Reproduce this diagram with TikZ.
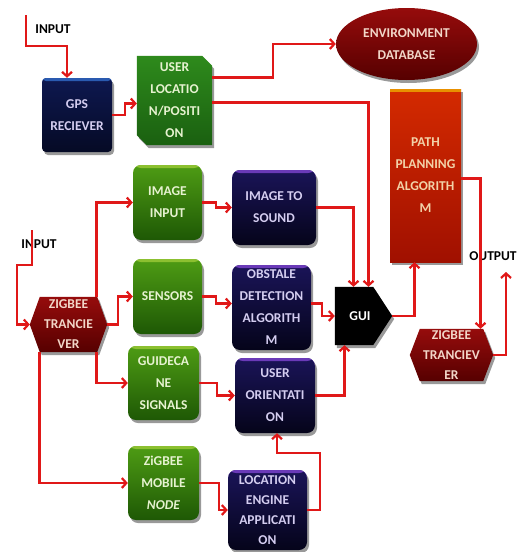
\documentclass[tikz,border=0pt]{standalone}
\usepackage{fontspec}
\setmainfont{Carlito}
\usetikzlibrary{shapes.geometric,shadows,arrows.meta}
\pgfdeclarelayer{bg}
\pgfsetlayers{bg,main}
\definecolor{wirecol}{HTML}{E01818}
\definecolor{navytop}{HTML}{1A1458}
\definecolor{navybot}{HTML}{05041A}
\definecolor{navyband}{HTML}{6A3AB8}
\definecolor{navytext}{HTML}{D4CDF0}
\definecolor{gpstop}{HTML}{0E1850}
\definecolor{gpsbot}{HTML}{050A25}
\definecolor{gpsband}{HTML}{2A5AB0}
\definecolor{greentop}{HTML}{4E9C14}
\definecolor{greenbot}{HTML}{1E5805}
\definecolor{greenband}{HTML}{8CC030}
\definecolor{greentext}{HTML}{E6F2D0}
\definecolor{ultop}{HTML}{2E8A1C}
\definecolor{ulbot}{HTML}{1A6010}
\definecolor{redtop}{HTML}{960C0C}
\definecolor{redbot}{HTML}{560000}
\definecolor{redtext}{HTML}{F2D6C8}
\definecolor{pptop}{HTML}{D42A00}
\definecolor{ppbot}{HTML}{A01000}
\definecolor{ppband}{HTML}{E89000}
\definecolor{pptext}{HTML}{F2D2A8}
\begin{document}
\begin{tikzpicture}[x=1pt,y=-1pt,
  every node/.style={font=\fontsize{13.5}{22}\selectfont\bfseries, align=center, inner sep=0pt},
  shad/.style={drop shadow={shadow xshift=2pt,shadow yshift=-3pt,opacity=.4,fill=black}},
  band/.style={path picture={\fill[#1] (path picture bounding box.north west) rectangle ([yshift=-3pt]path picture bounding box.north east);}},
  navybox/.style={rounded corners=8pt, top color=navytop, bottom color=navybot, text=navytext, shad, band=navyband},
  gpsbox/.style={rounded corners=4pt, top color=gpstop, bottom color=gpsbot, text=navytext, shad, band=gpsband},
  greenbox/.style={rounded corners=8pt, top color=greentop, bottom color=greenbot, text=greentext, shad, band=greenband},
  ppbox/.style={top color=pptop, bottom color=ppbot, text=pptext, shad, band=ppband},
  envbox/.style={ellipse, top color=redtop, bottom color=redbot, text=redtext, shad},
  ulfill/.style={top color=ultop, bottom color=ulbot, shad},
  hexfill/.style={top color=redtop, bottom color=redbot, shad},
  guifill/.style={fill=black, shad},
  hextext/.style={text=redtext, font=\fontsize{13.5}{20}\selectfont\bfseries},
  lbl/.style={font=\fontsize{13.5}{16}\selectfont\bfseries, text=black},
  wire/.style={draw=wirecol, line width=2.2pt, -{Straight Barb[length=4.5pt,width=10pt]}}
]
\useasboundingbox (0,0) rectangle (519,552);

% nodes
\node[gpsbox, minimum width=70pt, minimum height=74pt] (gps) at (77,115) {GPS\\RECIEVER};
\node[text=greentext, minimum width=75pt, minimum height=89pt] (ul) at (174.5,100.5) {USER\\LOCATIO\\N/POSITI\\ON};
\node[envbox, minimum width=141pt, minimum height=72pt] (env) at (406.5,44) {ENVIRONMENT\\DATABASE};
\node[ppbox, minimum width=71pt, minimum height=173pt] (pp) at (425.5,175.5) {PATH\\PLANNING\\ALGORITH\\M};
\node[greenbox, minimum width=69pt, minimum height=75pt] (ii) at (167.5,202.5) {IMAGE\\INPUT};
\node[navybox, minimum width=84pt, minimum height=75pt] (its) at (274,207.5) {IMAGE TO\\SOUND};
\node[greenbox, minimum width=69pt, minimum height=75pt] (sen) at (167.5,296.5) {SENSORS};
\node[navybox, minimum width=79pt, minimum height=85pt] (obs) at (271.5,307.5) {OBSTALE\\DETECTION\\ALGORITH\\M};
\node[text=white, minimum width=57pt, minimum height=58pt] (gui) at (363.5,316) {\hbox{GUI\kern7pt}};
\node[hextext, minimum width=77pt, minimum height=55pt] (zl) at (68.5,324.5) {ZIGBEE\\TRANCIE\\VER};
\node[hextext, minimum width=83pt, minimum height=52pt] (zr) at (451.5,355) {ZIGBEE\\TRANCIEV\\ER};
\node[greenbox, minimum width=71pt, minimum height=74pt] (gc) at (163.5,383) {GUIDECA\\NE\\SIGNALS};
\node[navybox, minimum width=80pt, minimum height=75pt] (uo) at (275,395.5) {USER\\ORIENTATI\\ON};
\node[greenbox, minimum width=71pt, minimum height=74pt] (zm) at (163.5,483) {ZiGBEE\\MOBILE\\\textit{NODE}};
\node[navybox, font=\fontsize{13.5}{20}\selectfont\bfseries, minimum width=79pt, minimum height=80pt] (le) at (267.5,510) {LOCATION\\ENGINE\\APPLICATI\\ON};

% labels
\node[lbl] (lin1) at (53,29) {INPUT};
\node[lbl] (lin2) at (39,244) {INPUT};
\node[lbl] (lout) at (493,256) {OUTPUT};

% custom shapes
\begin{pgfonlayer}{bg}
\path[ulfill] (ul.north west) -- ([xshift=-10pt]ul.north east) -- ([yshift=-10pt]ul.north east)
  -- (ul.south east) -- ([xshift=10pt]ul.south west) -- ([yshift=10pt]ul.south west) -- cycle;
\path[hexfill] (zl.west) -- ([xshift=10pt]zl.north west) -- ([xshift=-10pt]zl.north east) -- (zl.east)
  -- ([xshift=-10pt]zl.south east) -- ([xshift=10pt]zl.south west) -- cycle;
\path[hexfill] (zr.west) -- ([xshift=10pt]zr.north west) -- ([xshift=-10pt]zr.north east) -- (zr.east)
  -- ([xshift=-10pt]zr.south east) -- ([xshift=10pt]zr.south west) -- cycle;
\path[guifill] (gui.north west) -- ([xshift=-19pt]gui.north east) -- (gui.east)
  -- ([xshift=-19pt]gui.south east) -- (gui.south west) -- cycle;
\end{pgfonlayer}

% free ends
\coordinate (in1) at (26,15);
\coordinate (in2) at (32,230);
\coordinate (out) at (506,272);

% connectors
\draw[wire] (in1) -- (26,46) -| ([xshift=-10pt]gps.north);
\draw[wire] (gps.east) -- ++(13,0) |- ([yshift=-3pt]ul.west);
\draw[wire] ([yshift=23pt]ul.east) -- (273,77.5) |- (env.west);
\draw[wire] ([yshift=-2pt]ul.east) -| ([xshift=5pt]gui.north);
\draw[wire] (its.east) -| ([xshift=-10pt]gui.north);
\draw[wire] (in2) -- (32,265) -- (17,265) |- (zl.west);
\draw[wire] ([xshift=28pt]zl.north) |- (ii.west);
\draw[wire] (zl.east) -- ++(11,0) |- (sen.west);
\draw[wire] ([xshift=28pt]zl.south) |- (gc.west);
\draw[wire] ([xshift=-29pt]zl.south) |- (zm.west);
\draw[wire] (ii.east) -- ++(14,0) |- (its.west);
\draw[wire] (sen.east) -- ++(14,0) |- ([yshift=4pt]obs.west);
\draw[wire] ([yshift=4pt]obs.east) -- ++(11,0) |- (gui.west);
\draw[wire] (gc.east) -- ++(18,0) |- (uo.west);
\draw[wire] (uo.east) -| ([xshift=-19pt]gui.south);
\draw[wire] (zm.east) -- ++(20,0) |- (le.west);
\draw[wire] (le.east) -- ++(13,0) -- ++(0,-57) -| ([xshift=2pt]uo.south);
\draw[wire] (gui.east) -| ([xshift=-11pt]pp.south);
\draw[wire] ([yshift=-3pt]pp.east) -| ([xshift=29pt]zr.north);
\draw[wire] (zr.east) -| (out);
\end{tikzpicture}
\end{document}
